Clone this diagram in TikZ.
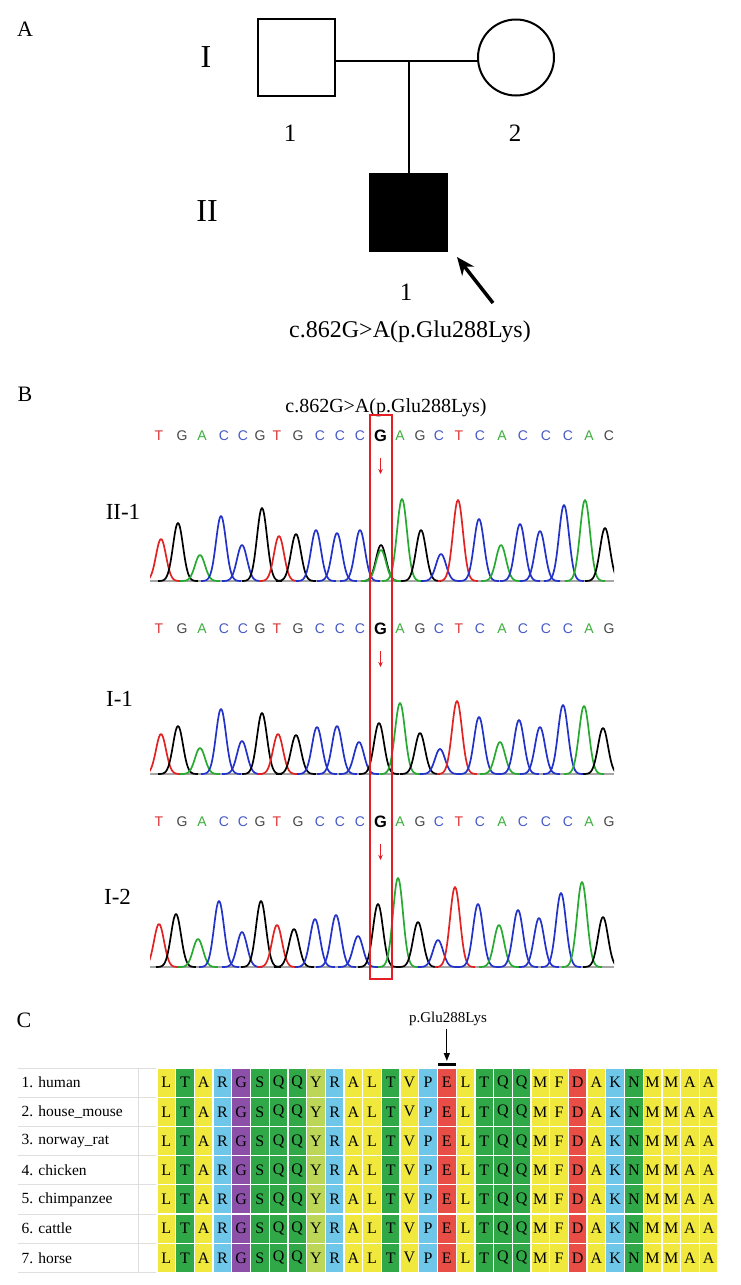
\documentclass[tikz,border=0pt]{standalone}
\usepackage{fontspec}
\setmainfont{Liberation Serif}
\newfontfamily\seqfont{Liberation Sans}
\usetikzlibrary{arrows.meta, positioning, calc}
\definecolor{tred}{RGB}{225,35,35}
\definecolor{tgreen}{RGB}{40,170,50}
\definecolor{tblue}{RGB}{35,50,200}
\definecolor{tblack}{RGB}{0,0,0}
\definecolor{colT}{RGB}{220,50,50}
\definecolor{colA}{RGB}{60,175,60}
\definecolor{colC}{RGB}{70,90,200}
\definecolor{colG}{RGB}{70,70,70}
\definecolor{boxred}{RGB}{228,30,36}
\definecolor{ayel}{RGB}{240,232,60}
\definecolor{agrn}{RGB}{48,168,72}
\definecolor{ablu}{RGB}{110,198,232}
\definecolor{apur}{RGB}{140,80,168}
\definecolor{ared}{RGB}{232,78,70}
\definecolor{alim}{RGB}{188,214,88}

\begin{document}
\begin{tikzpicture}[
    x=1pt, y=-1pt,
    male/.style={rectangle, draw=black, line width=2pt, minimum size=77pt, inner sep=0pt},
    female/.style={circle, draw=black, line width=2pt, minimum size=76pt, inner sep=0pt},
    kin/.style={line width=2pt},
    gen/.style={font=\fontsize{32}{32}\selectfont, inner sep=0pt},
    num/.style={font=\fontsize{25}{25}\selectfont, inner sep=0pt},
    panel/.style={font=\fontsize{22}{22}\selectfont, inner sep=0pt},
    mut/.style={font=\fontsize{24}{24}\selectfont, inner sep=0pt},
    btitle/.style={font=\fontsize{20}{20}\selectfont, inner sep=0pt},
    sample/.style={font=\fontsize{23}{23}\selectfont, inner sep=0pt},
    proband/.style={-{Stealth[length=18pt,width=15pt]}, line width=3.5pt},
    seq/.style={font=\seqfont\fontsize{14}{14}\selectfont, inner sep=0pt},
    seqbold/.style={font=\seqfont\bfseries\fontsize{16.5}{16.5}\selectfont, inner sep=0pt},
    redarr/.style={-{Stealth[length=5pt,width=4.5pt]}, line width=1.3pt, draw=boxred, fill=boxred},
    mutbox/.style={draw=boxred, line width=2pt},
    peak/.style={line width=1.7pt, line join=round},
    axisline/.style={draw=gray!70, line width=1.2pt},
    rowlab/.style={font=\fontsize{15.5}{15.5}\selectfont, anchor=west, inner sep=0pt},
    cell/.style={rectangle, draw=white, line width=1.3pt, minimum width=18.7pt, minimum height=29.2pt, inner sep=0pt, font=\fontsize{16}{16}\selectfont},
    gridline/.style={draw=gray!25, line width=0.8pt},
    plab/.style={font=\fontsize{15}{15}\selectfont, inner sep=0pt},
    markarr/.style={-{Triangle[length=8pt,width=6pt]}, line width=1.2pt}
]
\fill[white] (0,0) rectangle (740,1285);

% Panel A: pedigree
\node[panel] (pA) at (25,29.5) {A};
\node[gen] (g1) at (206,57.5) {I};
\node[gen] (g2) at (207,211.5) {II};
\node[male] (f1) at (296,57.5) {};
\node[female] (m1) at (516,57.5) {};
\node[male, fill=black] (c1) at (408.5,212.5) {};
\coordinate (mate) at (408.5,61);
\draw[kin] (f1.east |- mate) -- (m1.west |- mate);
\draw[kin] (mate) -- (c1.north);
\node[num] (n1) at (290,133.5) {1};
\node[num] (n2) at (515,133.5) {2};
\node[num] (n3) at (406,292) {1};
\coordinate (ptail) at (493,303);
\coordinate (ptip) at (457,257);
\draw[proband] (ptail) -- (ptip);
\node[mut, anchor=base] (mutA) at (410,337) {c.862G>A(p.Glu288Lys)};

% Panel B: sequencing traces
\node[panel] (pB) at (25,394) {B};
\node[btitle, anchor=base] (titleB) at (386,412) {c.862G>A(p.Glu288Lys)};
\node[sample] (lab1) at (123,512) {II-1};
\node[sample] (lab2) at (119.5,699) {I-1};
\node[sample] (lab3) at (117.5,897) {I-2};

\foreach \r/\ys in {1/436, 2/629, 3/822} {
  \foreach \i/\lx/\lt in {1/159/T, 2/182/G, 3/202/A, 4/224/C, 5/243/C, 6/260/G, 7/277/T, 8/298/G, 9/320/C, 10/340/C, 11/360/C, 13/400/A, 14/420/G, 15/439/C, 16/459/T, 17/480/C, 18/502/A, 19/523/C, 20/546/C, 21/568/C, 22/589/A}
    \node[seq, text=col\lt] (s\r-\i) at (\lx,\ys) {\lt};
  \node[seqbold] (g\r) at (380.5,\ys) {G};
  \draw[redarr] ($(g\r)+(0,22)$) -- ++(0,16);
}
\node[seq, text=colG] (s1-23) at (609,436) {C};
\node[seq, text=colG] (s2-23) at (609,629) {G};
\node[seq, text=colG] (s3-23) at (609,822) {G};

\foreach \b in {581,774,967}
  \draw[axisline] (150,\b) -- (614,\b);

\begin{scope}
\clip (150,400) rectangle (614,990);
% II-1
\foreach \px/\ph/\pc in {161/42/tred, 178/58/tblack, 200/26/tgreen, 221/65/tblue, 242/36/tblue, 262/73/tblack, 279/45/tred, 296/47/tblack, 316/51/tblue, 337/48/tblue, 360/51/tblue, 381/36/tblack, 381/31/tgreen, 402/82/tgreen, 421/51/tblack, 441/27/tblue, 458/81/tred, 479/62/tblue, 501/36/tgreen, 520/57/tblue, 540/50/tblue, 564/76/tblue, 585/81/tgreen, 605/53/tblack}
  \draw[peak, \pc] plot[domain=\px-20:\px+20, samples=41, smooth] (\x, {581-\ph*exp(-(\x-\px)*(\x-\px)/50)});
% I-1
\foreach \px/\ph/\pc in {161/40/tred, 178/48/tblack, 200/26/tgreen, 221/65/tblue, 242/33/tblue, 262/61/tblack, 278/40/tred, 296/39/tblack, 317/47/tblue, 337/48/tblue, 359/32/tblue, 379/51/tblack, 400/71/tgreen, 420/41/tblack, 440/25/tblue, 457/73/tred, 479/57/tblue, 500/32/tgreen, 519/54/tblue, 540/47/tblue, 563/69/tblue, 584/68/tgreen, 603/46/tblack}
  \draw[peak, \pc] plot[domain=\px-20:\px+20, samples=41, smooth] (\x, {774-\ph*exp(-(\x-\px)*(\x-\px)/50)});
% I-2
\foreach \px/\ph/\pc in {159/43/tred, 176/53/tblack, 198/28/tgreen, 219/66/tblue, 242/35/tblue, 261/66/tblack, 277/42/tred, 294/38/tblack, 315/48/tblue, 336/52/tblue, 358/31/tblue, 378/63/tblack, 398/89/tgreen, 418/45/tblack, 438/27/tblue, 455/80/tred, 478/63/tblue, 499/42/tgreen, 518/57/tblue, 539/49/tblue, 561/74/tblue, 582/85/tgreen, 603/50/tblack}
  \draw[peak, \pc] plot[domain=\px-20:\px+20, samples=41, smooth] (\x, {967-\ph*exp(-(\x-\px)*(\x-\px)/50)});
\end{scope}

\draw[mutbox] (369.5,415) rectangle (391.5,979);

% Panel C: conservation
\node[panel] (pC) at (24,1020) {C};
\foreach \r in {0,...,7}
  \draw[gridline] (18,{1068+\r*29.2}) -- (157,{1068+\r*29.2});
\draw[gridline] (138,1068) -- (138,1272.4);
\foreach \name [count=\r] in {1. human, 2. house\_mouse, 3. norway\_rat, 4. chicken, 5. chimpanzee, 6. cattle, 7. horse} {
  \node[rowlab] (sp\r) at (21.5,{1082.6+(\r-1)*29.2}) {\name};
  \foreach \aa/\cc [count=\k] in {L/ayel, T/agrn, A/ayel, R/ablu, G/apur, S/agrn, Q/agrn, Q/agrn, Y/alim, R/ablu, A/ayel, L/ayel, T/agrn, V/ayel, P/ablu, E/ared, L/ayel, T/agrn, Q/agrn, Q/agrn, M/ayel, F/ayel, D/ared, A/ayel, K/ablu, N/agrn, M/ayel, M/ayel, A/ayel, A/ayel}
    \node[cell, fill=\cc] (a\r-\k) at ({157+(\k-0.5)*18.7},{1082.6+(\r-1)*29.2}) {\aa};
}
\node[plab, anchor=base] (plab) at (448,1022) {p.Glu288Lys};
\coordinate (esite) at (a1-16.north |- 0,1061);
\draw[markarr] ([yshift=-4pt]plab.south -| esite) -- (esite);
\draw[line width=3pt] ($(a1-16.north)+(-9,-3)$) -- ++(18,0);
\end{tikzpicture}
\end{document}
